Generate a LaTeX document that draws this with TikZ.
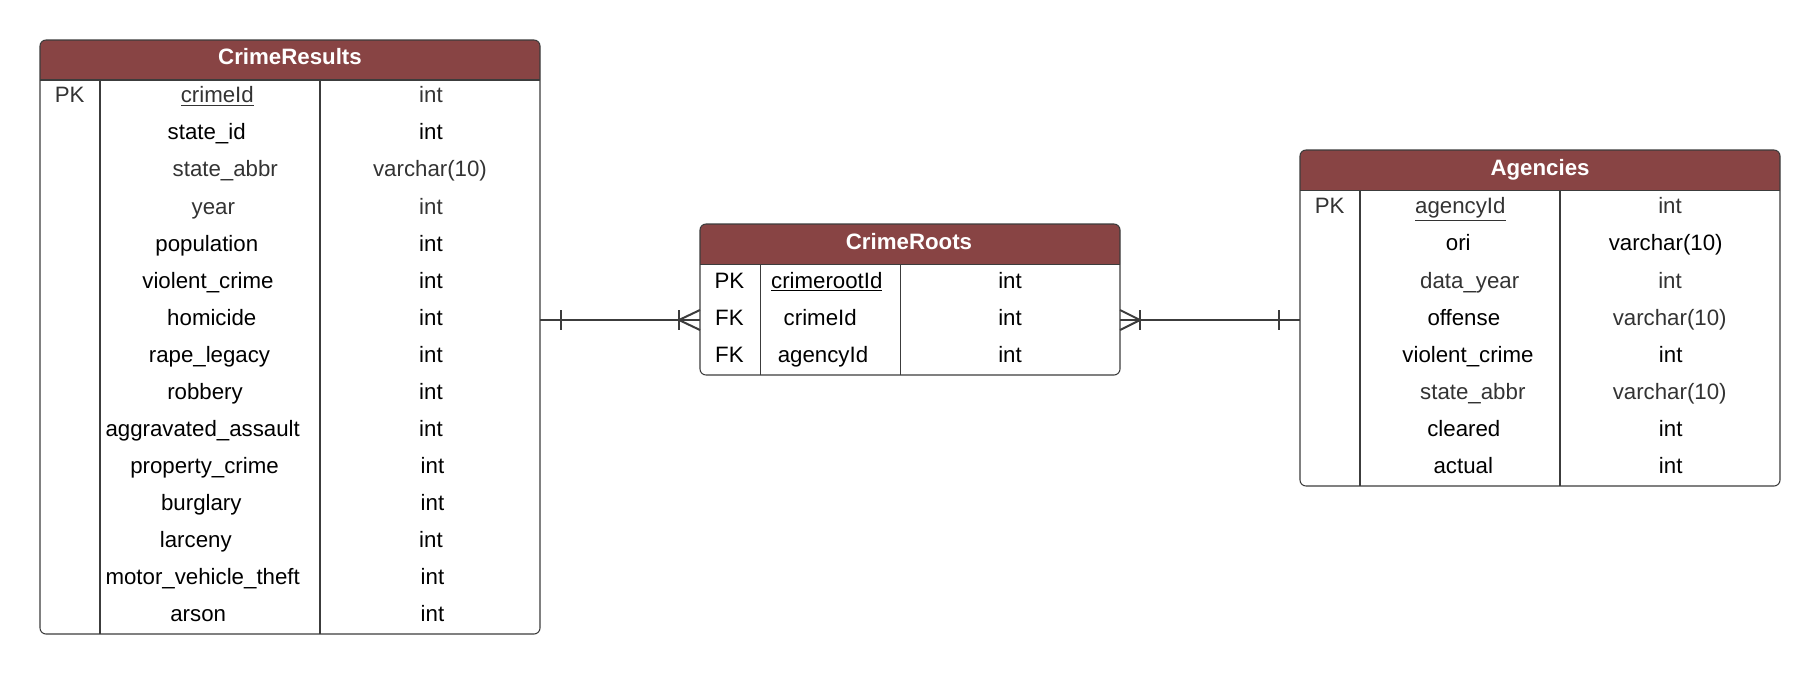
\documentclass[tikz,border=0pt]{standalone}
\usepackage{fontspec}
\setmainfont{Liberation Sans}
\usepackage{tikz}
\usetikzlibrary{calc}

\definecolor{hdrred}{RGB}{136,68,68}
\definecolor{txtgrey}{RGB}{51,51,51}
\definecolor{linegrey}{RGB}{60,60,60}

\tikzset{
  tbl/.style={draw=linegrey, line width=0.8pt, rounded corners=4.5pt, inner sep=0pt, outer sep=0pt},
  hdr/.style={fill=hdrred, rounded corners=4.5pt},
  ttl/.style={text=white, font=\fontsize{16.7}{20}\selectfont\bfseries, anchor=base, inner sep=0pt},
  cell/.style={text=black, font=\fontsize{16.7}{20}\selectfont, anchor=base, inner sep=0pt},
  cellg/.style={cell, text=txtgrey},
  divline/.style={draw=linegrey, line width=0.9pt},
  rel/.style={draw=linegrey, line width=1.5pt},
}

\begin{document}
\begin{tikzpicture}[x=0.75pt,y=0.75pt,yscale=-1,xscale=1]
\useasboundingbox (0,0) rectangle (1820,675);

%Shape: Header fills
\fill[hdr] (40,80) -- (40,40) -- (540,40) -- (540,80);
\fill[hdr] (700,264.5) -- (700,224) -- (1120,224) -- (1120,264.5);
\fill[hdr] (1300,190.5) -- (1300,150) -- (1780,150) -- (1780,190.5);

%Shape: Tables
\node[tbl, minimum width=375pt, minimum height=445.5pt] (crimeresults) at (290,337) {};
\node[tbl, minimum width=315pt, minimum height=113.25pt] (crimeroots) at (910,299.5) {};
\node[tbl, minimum width=360pt, minimum height=252pt] (agencies) at (1540,318) {};

%Straight Lines: header rules and columns
\draw[divline] (40,80) -- (540,80);
\draw[divline] (100,80) -- (100,634);
\draw[divline] (320,80) -- (320,634);
\draw[divline] (700,264.5) -- (1120,264.5);
\draw[divline] (760.5,264.5) -- (760.5,375);
\draw[divline] (900.5,264.5) -- (900.5,375);
\draw[divline] (1300,190.5) -- (1780,190.5);
\draw[divline] (1360,190.5) -- (1360,486);
\draw[divline] (1560,190.5) -- (1560,486);

% Text Node: titles
\node[ttl] (crimeresults-ttl) at (290,64.5) {CrimeResults};
\node[ttl] (crimeroots-ttl) at (909,249.5) {CrimeRoots};
\node[ttl] (agencies-ttl) at (1540,175) {Agencies};

% Text Node: CrimeResults
\node[cellg] (res-k0) at (69.7,102.8) {PK};
\node[cellg] (res-n0) at (217.3,102.8) {\underline{crimeId}};
\node[cellg] (res-t0) at (431,102.8) {int};
\node[cell] (res-n1) at (206.7,139.9) {state\_id};
\node[cell] (res-t1) at (431,139.9) {int};
\node[cellg] (res-n2) at (225.3,176.9) {state\_abbr};
\node[cellg] (res-t2) at (430,176.9) {varchar(10)};
\node[cellg] (res-n3) at (213.3,214) {year};
\node[cellg] (res-t3) at (431,214) {int};
\node[cell] (res-n4) at (206.8,251) {population};
\node[cell] (res-t4) at (431,251) {int};
\node[cell] (res-n5) at (208,288.1) {violent\_crime};
\node[cell] (res-t5) at (431,288.1) {int};
\node[cell] (res-n6) at (211.8,325.1) {homicide};
\node[cell] (res-t6) at (431,325.1) {int};
\node[cell] (res-n7) at (209.5,362.2) {rape\_legacy};
\node[cell] (res-t7) at (431,362.2) {int};
\node[cell] (res-n8) at (205,399.2) {robbery};
\node[cell] (res-t8) at (431,399.2) {int};
\node[cell] (res-n9) at (202.7,436.3) {aggravated\_assault};
\node[cell] (res-t9) at (431,436.3) {int};
\node[cell] (res-n10) at (204.5,473.3) {property\_crime};
\node[cell] (res-t10) at (432.5,473.3) {int};
\node[cell] (res-n11) at (201.3,510.4) {burglary};
\node[cell] (res-t11) at (432.5,510.4) {int};
\node[cell] (res-n12) at (195.8,547.4) {larceny};
\node[cell] (res-t12) at (431,547.4) {int};
\node[cell] (res-n13) at (202.7,584.5) {motor\_vehicle\_theft};
\node[cell] (res-t13) at (432.5,584.5) {int};
\node[cell] (res-n14) at (198.2,621.5) {arson};
\node[cell] (res-t14) at (432.5,621.5) {int};

% Text Node: CrimeRoots
\node[cell] (root-k0) at (729.4,288.5) {PK};
\node[cell] (root-n0) at (826.8,288.5) {\underline{crimerootId}};
\node[cell] (root-t0) at (1010,288.5) {int};
\node[cell] (root-k1) at (729.4,325.7) {FK};
\node[cell] (root-n1) at (820.2,325.7) {crimeId};
\node[cell] (root-t1) at (1010,325.7) {int};
\node[cell] (root-k2) at (729.4,362.9) {FK};
\node[cell] (root-n2) at (823,362.9) {agencyId};
\node[cell] (root-t2) at (1010,362.9) {int};

% Text Node: Agencies
\node[cellg] (ag-k0) at (1329.7,213.8) {PK};
\node[cellg] (ag-n0) at (1460.3,213.8) {\underline{agencyId}};
\node[cellg] (ag-t0) at (1670,213.8) {int};
\node[cell] (ag-n1) at (1458.3,250.9) {ori};
\node[cell] (ag-t1) at (1665.7,250.9) {varchar(10)};
\node[cellg] (ag-n2) at (1469.7,288) {data\_year};
\node[cellg] (ag-t2) at (1670,288) {int};
\node[cell] (ag-n3) at (1463.8,325.1) {offense};
\node[cellg] (ag-t3) at (1669.7,325.1) {varchar(10)};
\node[cell] (ag-n4) at (1468,362.2) {violent\_crime};
\node[cell] (ag-t4) at (1670.7,362.2) {int};
\node[cellg] (ag-n5) at (1472.8,399.3) {state\_abbr};
\node[cellg] (ag-t5) at (1669.7,399.3) {varchar(10)};
\node[cell] (ag-n6) at (1463.8,436.4) {cleared};
\node[cell] (ag-t6) at (1670.7,436.4) {int};
\node[cell] (ag-n7) at (1463.3,473.5) {actual};
\node[cell] (ag-t7) at (1670.7,473.5) {int};

%Straight Lines: relations
\coordinate (link) at (910,320);
\draw[rel] (crimeresults.east |- link) -- (crimeroots.west |- link);
\draw[rel] ($(crimeresults.east |- link)+(21,-10)$) -- ++(0,20);
\draw[rel] ($(crimeroots.west |- link)+(-21,-10)$) -- ++(0,20);
\draw[rel] ($(crimeroots.west |- link)+(0,-10)$) -- ($(crimeroots.west |- link)+(-21,0)$) -- ($(crimeroots.west |- link)+(0,10)$);

\draw[rel] (crimeroots.east |- link) -- (agencies.west |- link);
\draw[rel] ($(agencies.west |- link)+(-21,-10)$) -- ++(0,20);
\draw[rel] ($(crimeroots.east |- link)+(20,-10)$) -- ++(0,20);
\draw[rel] ($(crimeroots.east |- link)+(0,-10)$) -- ($(crimeroots.east |- link)+(20,0)$) -- ($(crimeroots.east |- link)+(0,10)$);

\end{tikzpicture}
\end{document}
